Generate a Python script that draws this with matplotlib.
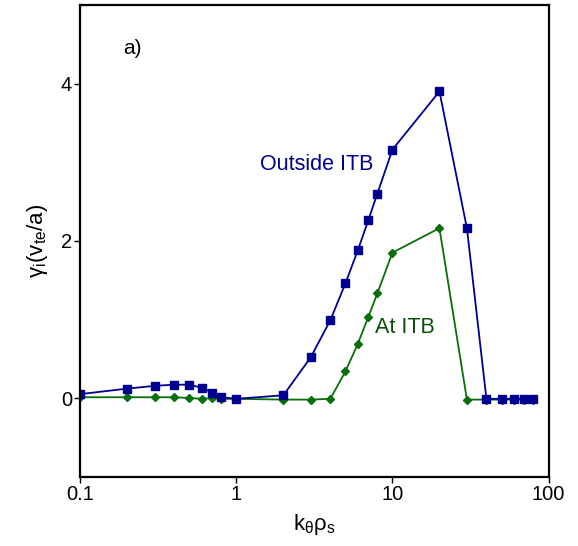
import matplotlib
matplotlib.use("Agg")
import matplotlib.pyplot as plt

plt.rcParams['font.family'] = ['Liberation Sans', 'DejaVu Sans']
plt.rcParams['mathtext.fontset'] = 'custom'
plt.rcParams['mathtext.rm'] = 'Liberation Sans'
plt.rcParams['mathtext.it'] = 'Liberation Sans'
plt.rcParams['mathtext.default'] = 'regular'

# k_theta rho_s values and growth rates
k_out = [0.1, 0.2, 0.3, 0.4, 0.5, 0.6, 0.7, 0.8, 1, 2, 3, 4, 5, 6, 7, 8, 10, 20, 30, 40, 50, 60, 70, 80]
g_out = [0.05, 0.12, 0.155, 0.17, 0.17, 0.13, 0.07, 0.01, -0.01, 0.035, 0.52, 0.99, 1.46, 1.88, 2.26, 2.60,
         3.16, 3.90, 2.16, -0.01, -0.01, -0.01, -0.01, -0.01]

k_at = [0.1, 0.2, 0.3, 0.4, 0.5, 0.6, 0.7, 0.8, 1, 2, 3, 4, 5, 6, 7, 8, 10, 20, 30, 40, 50, 60, 70, 80]
g_at = [0.01, 0.01, 0.01, 0.01, 0.0, -0.01, 0.0, -0.01, -0.01, -0.02, -0.02, -0.01, 0.34, 0.69, 1.03, 1.33,
        1.85, 2.16, -0.02, -0.02, -0.02, -0.02, -0.02, -0.02]

blue = '#000090'
green = '#0a6e0a'

fig = plt.figure(figsize=(5.78, 5.46), dpi=100)
ax = fig.add_axes([0.139, 0.127, 0.81, 0.864])

ax.plot(k_at, g_at, color=green, lw=1.3, marker='D', ms=4.2, mfc=green, mec=green)
ax.plot(k_out, g_out, color=blue, lw=1.3, marker='s', ms=5.5, mfc=blue, mec=blue)

ax.set_xscale('log')
ax.set_xlim(0.1, 100)
ax.set_ylim(-1, 5)
ax.set_xticks([0.1, 1, 10, 100])
ax.set_xticklabels(['0.1', '1', '10', '100'])
ax.xaxis.set_minor_locator(matplotlib.ticker.NullLocator())
ax.set_yticks([0, 2, 4])
ax.tick_params(direction='out', length=4, width=1, labelsize=14.5, pad=2)

for s in ax.spines.values():
    s.set_linewidth(1.6)

ax.set_xlabel(r'$k_{\theta}\rho_s$', fontsize=16, labelpad=6)
ax.set_ylabel(r'$\gamma_i(v_{te}/a)$', fontsize=16, labelpad=8)

ax.text(0.187, 4.44, 'a)', fontsize=15, color='black', va='center')
ax.text(1.41, 2.97, 'Outside ITB', fontsize=15.5, color=blue, va='center')
ax.text(7.7, 0.9, 'At ITB', fontsize=15.5, color='#0b4d0b', va='center')

fig.savefig('out.png', dpi=100)
